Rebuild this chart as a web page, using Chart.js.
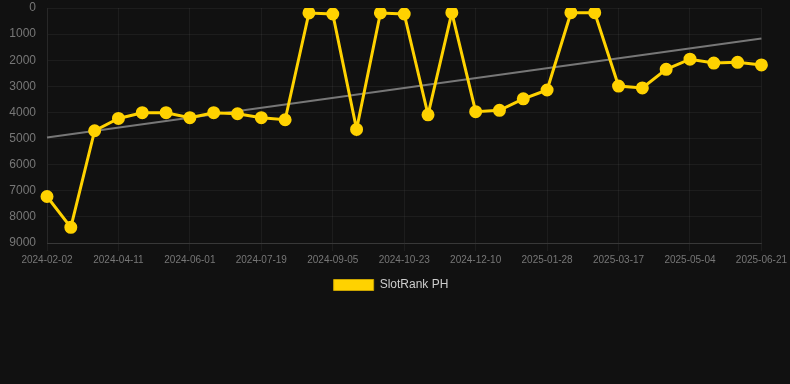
<!DOCTYPE html>
<html>
<head>
<meta charset="utf-8">
<script src="https://cdn.jsdelivr.net/npm/chart.js@4/dist/chart.umd.min.js"></script>
<style>
  html, body { margin: 0; padding: 0; background: #111111; }
  #wrap { position: relative; width: 790px; height: 301px; }
</style>
</head>
<body>
<div id="wrap"><canvas id="c"></canvas></div>
<script>
const dates = [
  "2024-02-02","2024-02-25","2024-03-19","2024-04-11","2024-04-28","2024-05-15",
  "2024-06-01","2024-06-17","2024-07-03","2024-07-19","2024-08-05","2024-08-22",
  "2024-09-05","2024-09-23","2024-10-08","2024-10-23","2024-11-08","2024-11-24",
  "2024-12-10","2024-12-26","2025-01-12","2025-01-28","2025-02-13","2025-03-01",
  "2025-03-17","2025-04-02","2025-04-18","2025-05-04","2025-05-20","2025-06-05",
  "2025-06-21"
];
const rankValues = [
  7220, 8400, 4700, 4230, 4010, 4010, 4200, 4010, 4050, 4200, 4280, 190,
  230, 4650, 190, 230, 4090, 180, 3970, 3920, 3480, 3140, 180, 180,
  2990, 3060, 2350, 1960, 2110, 2080, 2180
];
const trendStart = 4960;
const trendEnd = 1170;
const yTicks = [0,1000,2000,3000,4000,5000,6000,7000,8000,9000];

const trendValues = dates.map((d, i) => i === 0 ? trendStart : (i === dates.length - 1 ? trendEnd : null));

const FONT = '"Liberation Sans", Arial, Helvetica, sans-serif';

new Chart(document.getElementById('c'), {
  type: 'line',
  data: {
    labels: dates,
    datasets: [
      {
        label: 'SlotRank PH',
        data: rankValues,
        borderColor: '#FFD200',
        backgroundColor: '#FFD200',
        borderWidth: 3,
        pointRadius: 5,
        pointHoverRadius: 5,
        pointBackgroundColor: '#FFD200',
        pointBorderColor: '#FFD200',
        tension: 0
      },
      {
        label: 'trend',
        data: trendValues,
        borderColor: '#777777',
        backgroundColor: '#777777',
        borderWidth: 2,
        pointRadius: 0,
        spanGaps: true,
        tension: 0
      }
    ]
  },
  options: {
    responsive: true,
    maintainAspectRatio: false,
    animation: false,
    layout: { padding: { left: 0, right: 8, top: -3, bottom: 0 } },
    plugins: {
      legend: {
        display: true,
        position: 'bottom',
        labels: {
          color: '#cccccc',
          font: { family: FONT, size: 12 },
          boxWidth: 40,
          boxHeight: 11,
          generateLabels: (chart) => Chart.defaults.plugins.legend.labels.generateLabels(chart)
            .filter(it => it.text !== 'trend')
            .map(it => Object.assign(it, { lineWidth: 1, strokeStyle: '#c9a400' }))
        }
      },
      tooltip: { enabled: false }
    },
    scales: {
      x: {
        type: 'category',
        offset: false,
        grid: { color: 'rgba(255,255,255,0.05)', tickColor: 'rgba(255,255,255,0.05)' },
        border: { color: 'rgba(255,255,255,0.12)' },
        ticks: {
          color: '#777777',
          font: { family: FONT, size: 10 },
          autoSkip: false,
          maxRotation: 0,
          minRotation: 0,
          callback: function(value, index) { return index % 3 === 0 ? dates[index] : null; }
        }
      },
      y: {
        reverse: true,
        min: 0,
        max: 9000,
        afterBuildTicks: (axis) => { axis.ticks = yTicks.map(v => ({ value: v })); },
        afterFit: (axis) => { axis.width = 47; axis.paddingTop = 3; },
        grid: { color: 'rgba(255,255,255,0.05)', tickColor: 'rgba(255,255,255,0.0)', tickLength: 11 },
        border: { color: 'rgba(255,255,255,0.05)' },
        ticks: {
          color: '#777777',
          padding: 0,
          font: { family: FONT, size: 12 },
          callback: (v) => String(v)
        }
      }
    }
  }
});
</script>
</body>
</html>
